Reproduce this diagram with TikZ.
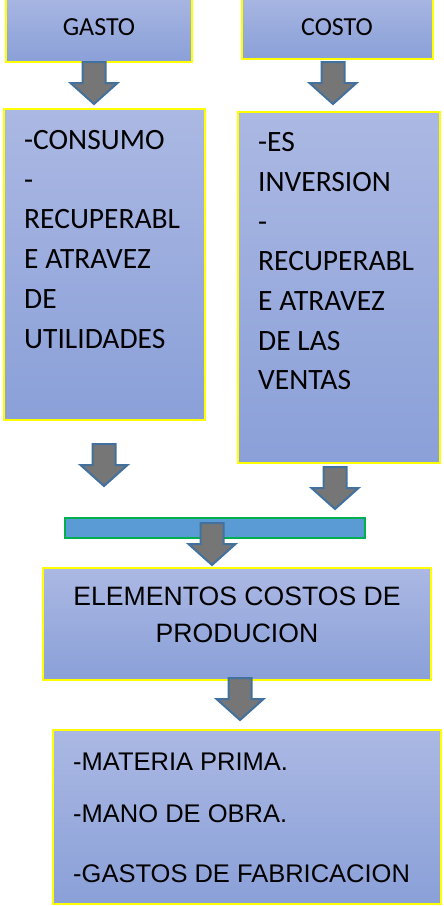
\documentclass[tikz,border=0pt]{standalone}
\usepackage{fontspec}
\setmainfont{Carlito}
\newfontfamily\arialf{Liberation Sans}
\definecolor{boxtop}{RGB}{171,184,227}
\definecolor{boxbot}{RGB}{138,160,216}
\definecolor{boxline}{RGB}{255,255,0}
\definecolor{arrgray}{RGB}{118,118,118}
\definecolor{arrblue}{RGB}{65,113,156}
\definecolor{barfill}{RGB}{91,155,213}
\definecolor{barline}{RGB}{0,176,80}
\begin{document}
\begin{tikzpicture}[x=1pt,y=-1pt,
  box/.style={shape=rectangle, draw=boxline, line width=1.4pt, top color=boxtop, bottom color=boxbot, inner sep=0pt},
  barbox/.style={shape=rectangle, draw=barline, line width=2pt, fill=barfill, inner sep=0pt},
  barrowst/.style={fill=arrgray, draw=arrblue, line width=2pt, line join=miter},
  pics/barrow/.style={code={\draw[barrowst] (-11.5,0) -- (11.5,0) -- (11.5,21) -- (23.5,21) -- (0,42) -- (-23.5,21) -- (-11.5,21) -- cycle;}},
  ctext/.style={inner sep=0pt, font=\fontsize{29.5}{34}\selectfont},
  ttext/.style={inner sep=0pt, font=\fontsize{26}{32}\selectfont},
  atext/.style={inner sep=0pt, font=\arialf\fontsize{25.5}{32}\selectfont},
  etext/.style={inner sep=0pt, font=\arialf\fontsize{26.6}{32}\selectfont}
]
\useasboundingbox (0,0) rectangle (444,906);
% boxes
\node[box, minimum width=186pt, minimum height=72pt] (gasto) at (99,26) {};
\node[box, minimum width=191pt, minimum height=69pt] (costo) at (337.5,24.5) {};
\node[box, minimum width=201pt, minimum height=311pt] (lbox) at (104.5,264.5) {};
\node[box, minimum width=202pt, minimum height=351pt] (rbox) at (339,287.5) {};
\node[barbox, minimum width=300pt, minimum height=20pt] (bar) at (215,528) {};
\node[box, minimum width=388pt, minimum height=112pt] (elem) at (237,624) {};
\node[box, minimum width=388pt, minimum height=174pt] (mbox) at (247,817) {};
% titles
\node[ttext, anchor=base] (gastot) at (99,35) {GASTO};
\node[ttext, anchor=base] (costot) at (337,35) {COSTO};
% left list
\foreach \t [count=\i] in {-CONSUMO,-,RECUPERABL,E ATRAVEZ,DE,UTILIDADES}
  \node[ctext, anchor=base west] (gl\i) at ({24},{149.3+39.8*(\i-1)}) {\t};
% right list
\foreach \t [count=\i] in {-ES,INVERSION,-,RECUPERABL,E ATRAVEZ,DE LAS,VENTAS}
  \node[ctext, anchor=base west] (rl\i) at ({258},{151.7+39.7*(\i-1)}) {\t};
% elementos
\node[etext, anchor=base] (el1) at (237,605) {ELEMENTOS COSTOS DE};
\node[etext, anchor=base] (el2) at (237,642) {PRODUCION};
% bottom list
\node[atext, anchor=base west] (m1) at (73,770) {-MATERIA PRIMA.};
\node[atext, anchor=base west] (m2) at (73,822) {-MANO DE OBRA.};
\node[atext, anchor=base west] (m3) at (73,882) {-GASTOS DE FABRICACION};
% arrows
\coordinate (a1) at (94,62);
\coordinate (a2) at (333,62);
\coordinate (a3) at (104,444);
\coordinate (a4) at (335,467);
\coordinate (a5) at (212,523);
\coordinate (a6) at (240,678);
\foreach \a in {a1,a2,a3,a4,a5,a6} \pic at (\a) {barrow};
\end{tikzpicture}
\end{document}
